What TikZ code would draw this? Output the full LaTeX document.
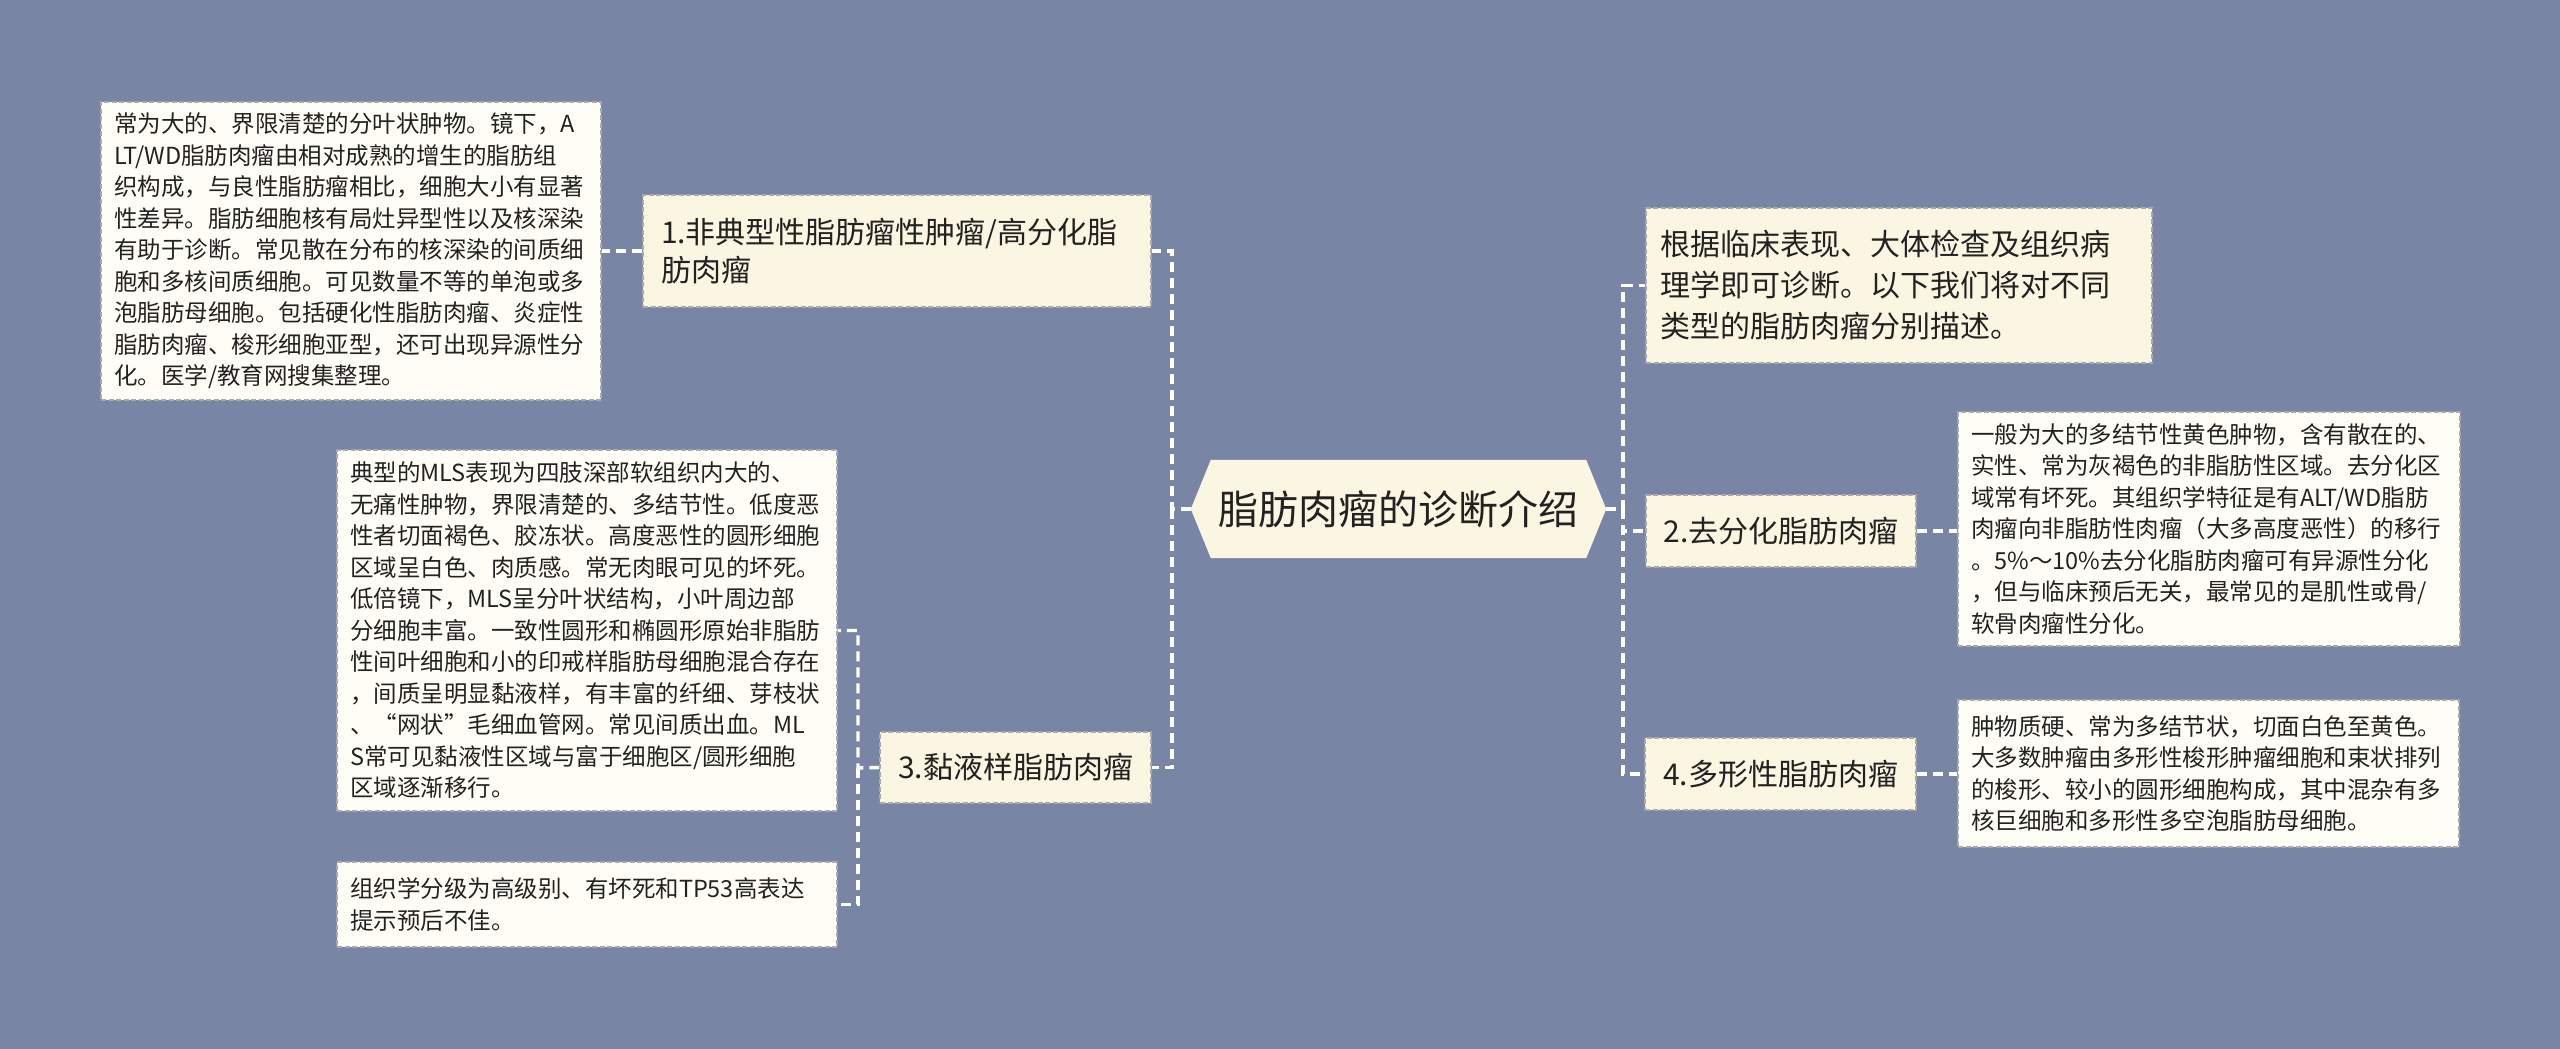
\documentclass[tikz,border=0pt]{standalone}
\usepackage{fontspec}
\setmainfont{Noto Sans CJK SC}
\usetikzlibrary{backgrounds}
\definecolor{bg}{HTML}{7885A5}
\definecolor{branchfill}{HTML}{FBF6E2}
\definecolor{leaffill}{HTML}{FFFEF6}
\definecolor{boxline}{HTML}{A9A9A9}
\definecolor{txt}{HTML}{222222}
\tikzset{
  conn/.style={draw=white, line width=3.4pt, dash pattern=on 10pt off 6pt},
  box/.style={draw=boxline, line width=1.3pt, dash pattern=on 5pt off 2.5pt, inner sep=0pt, text=txt},
  branch/.style={box, fill=branchfill, font=\fontsize{30pt}{38pt}\selectfont},
  leaf/.style={box, fill=leaffill, font=\fontsize{23.5pt}{31.5pt}\selectfont, align=left, inner xsep=13pt},
}
\begin{document}
\begin{tikzpicture}[x=1pt,y=-1pt]
\useasboundingbox (0,0) rectangle (2560,1049);

% root
\node[font=\fontsize{40pt}{46pt}\selectfont, text=txt, minimum width=415pt, minimum height=98pt, inner sep=0pt] (root) at (1398.5,509) {脂肪肉瘤的诊断介绍};

% left branches
\node[branch, align=left, text width=472pt, inner xsep=18pt, minimum height=112pt] (n1) at (897,251) {1.非典型性脂肪瘤性肿瘤/高分化脂\\肪肉瘤};
\node[branch, minimum width=271pt, minimum height=71pt] (n3) at (1015.5,767.5) {3.黏液样脂肪肉瘤};

% right branches
\node[branch, align=left, text width=478pt, inner xsep=14pt, minimum height=155pt, font=\fontsize{30pt}{41pt}\selectfont] (r0) at (1899,285.5) {根据临床表现、大体检查及组织病\\理学即可诊断。以下我们将对不同\\类型的脂肪肉瘤分别描述。};
\node[branch, minimum width=270pt, minimum height=72pt] (n2) at (1781,531) {2.去分化脂肪肉瘤};
\node[branch, minimum width=271pt, minimum height=72pt] (n4) at (1780.5,774) {4.多形性脂肪肉瘤};

% leaves
\node[leaf, text width=474pt, minimum height=298pt] (L1) at (351,251) {常为大的、界限清楚的分叶状肿物。镜下，A\\LT/WD脂肪肉瘤由相对成熟的增生的脂肪组\\织构成，与良性脂肪瘤相比，细胞大小有显著\\性差异。脂肪细胞核有局灶异型性以及核深染\\有助于诊断。常见散在分布的核深染的间质细\\胞和多核间质细胞。可见数量不等的单泡或多\\泡脂肪母细胞。包括硬化性脂肪肉瘤、炎症性\\脂肪肉瘤、梭形细胞亚型，还可出现异源性分\\化。医学/教育网搜集整理。};

\node[leaf, text width=474pt, minimum height=361pt] (M1) at (587,630.5) {典型的MLS表现为四肢深部软组织内大的、\\无痛性肿物，界限清楚的、多结节性。低度恶\\性者切面褐色、胶冻状。高度恶性的圆形细胞\\区域呈白色、肉质感。常无肉眼可见的坏死。\\低倍镜下，MLS呈分叶状结构，小叶周边部\\分细胞丰富。一致性圆形和椭圆形原始非脂肪\\性间叶细胞和小的印戒样脂肪母细胞混合存在\\，间质呈明显黏液样，有丰富的纤细、芽枝状\\、“网状”毛细血管网。常见间质出血。ML\\S常可见黏液性区域与富于细胞区/圆形细胞\\区域逐渐移行。};

\node[leaf, text width=474pt, minimum height=85pt] (M2) at (587,904.5) {组织学分级为高级别、有坏死和TP53高表达\\提示预后不佳。};

\node[leaf, text width=476pt, minimum height=234pt] (R2) at (2209,529) {一般为大的多结节性黄色肿物，含有散在的、\\实性、常为灰褐色的非脂肪性区域。去分化区\\域常有坏死。其组织学特征是有ALT/WD脂肪\\肉瘤向非脂肪性肉瘤（大多高度恶性）的移行\\。5\%～10\%去分化脂肪肉瘤可有异源性分化\\，但与临床预后无关，最常见的是肌性或骨/\\软骨肉瘤性分化。};

\node[leaf, text width=475pt, minimum height=147pt] (R3) at (2208.5,773.5) {肿物质硬、常为多结节状，切面白色至黄色。\\大多数肿瘤由多形性梭形肿瘤细胞和束状排列\\的梭形、较小的圆形细胞构成，其中混杂有多\\核巨细胞和多形性多空泡脂肪母细胞。};

\coordinate (tl) at (1172,509);
\coordinate (tr) at (1623,509);
\coordinate (t3) at (858,768);

\begin{scope}[on background layer]
  \fill[bg] (0,0) rectangle (2560,1049);
  \fill[branchfill] (root.west) -- ([xshift=20pt]root.north west) -- ([xshift=-20pt]root.north east) -- (root.east) -- ([xshift=-20pt]root.south east) -- ([xshift=20pt]root.south west) -- cycle;
  % trunk left
  \draw[conn] (root.west) -- (tl) |- (n1.east);
  \draw[conn] (tl) |- (n3.east);
  % trunk right
  \draw[conn] (root.east) -- (tr) |- (r0.west);
  \draw[conn] (tr) |- (n2.west);
  \draw[conn] (tr) |- (n4.west);
  % leaves
  \draw[conn] (n1.west) -- (L1.east);
  \draw[conn] (n3.west) -- (t3) |- (M1.east);
  \draw[conn] (t3) |- (M2.east);
  \draw[conn] (n2.east) -- (n2.east -| R2.west);
  \draw[conn] (n4.east) -- (n4.east -| R3.west);
\end{scope}
\end{tikzpicture}
\end{document}
